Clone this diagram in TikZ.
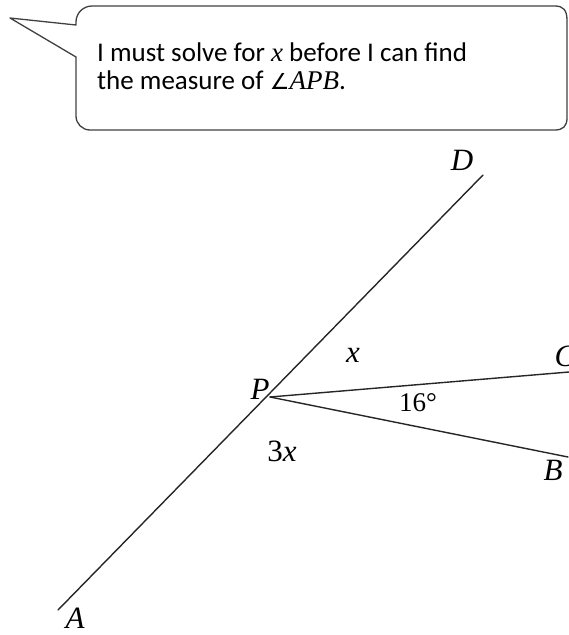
\documentclass[tikz,border=0pt]{standalone}
\usepackage{fontspec}
\setmainfont{Carlito}
\newfontfamily\lblfont{Liberation Serif}
\newfontfamily\symfont{DejaVu Sans}
\begin{document}
\begin{tikzpicture}[x=1pt,y=-1pt,
  geoline/.style={line width=1.4pt, draw=black!85, line cap=round},
  bubble/.style={line width=1.3pt, draw=black!75, line join=round},
  lbl/.style={font=\lblfont\fontsize{31}{31}\selectfont\itshape, inner sep=0pt},
  numlbl/.style={font=\lblfont\fontsize{27}{27}\selectfont, inner sep=0pt},
  saytext/.style={font=\fontsize{27}{28}\selectfont, inner sep=0pt, anchor=base west}]
\useasboundingbox (0,0) rectangle (569,635);
% speech bubble
\draw[bubble] (76,25) -- (10,18) -- (76,57) -- (76,116)
  arc[start angle=180,end angle=90,radius=14] -- (555,130)
  .. controls (563,130) and (567,126) .. (567,118) -- (567,20)
  .. controls (567,10) and (563,6) .. (555,6) -- (92,6)
  arc[start angle=270,end angle=180,radius=16] -- cycle;
\node[saytext] (t1) at (97,61) {I must solve for {\lblfont\itshape x} before I can find};
\node[saytext] (t2) at (97,89) {the measure of {\symfont\fontsize{22}{22}\selectfont ∠}{\lblfont\itshape APB}.};
% geometry
\coordinate (A) at (58,610);
\coordinate (D) at (483,175);
\coordinate (P) at (270,397);
\coordinate (C) at (569,372);
\coordinate (B) at (568,457);
\draw[geoline] (A) -- (D);
\draw[geoline] (P) -- (C);
\draw[geoline] (P) -- (B);
\node[lbl] (lA) at (75,618) {A};
\node[lbl] (lD) at (462,160) {D};
\node[lbl] (lC) at (565,356) {C};
\node[lbl] (lB) at (553,470) {B};
\node[lbl] (lP) at (260,389) {P};
\node[lbl] (lx) at (353,355) {x};
\node[numlbl] (l16) at (418,403) {16\textdegree};
\node[lbl] (l3x) at (282,451) {\upshape 3\itshape x};
\end{tikzpicture}
\end{document}
